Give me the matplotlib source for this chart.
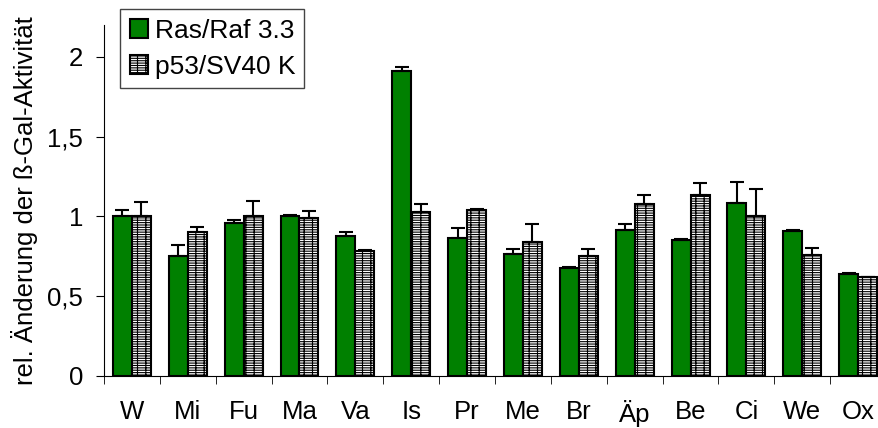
import numpy as np
import matplotlib
matplotlib.use("Agg")
import matplotlib.pyplot as plt

plt.rcParams["font.family"] = ["Liberation Sans", "DejaVu Sans"]
plt.rcParams["hatch.linewidth"] = 0.8
plt.rcParams["hatch.color"] = "#333333"

categories = ["W", "Mi", "Fu", "Ma", "Va", "Is", "Pr", "Me", "Br", "Äp", "Be", "Ci", "We", "Ox"]
ras = [1.00, 0.75, 0.96, 1.00, 0.88, 1.915, 0.865, 0.765, 0.68, 0.915, 0.855, 1.085, 0.91, 0.64]
ras_err = [0.04, 0.07, 0.015, 0.01, 0.02, 0.02, 0.06, 0.03, 0.005, 0.04, 0.005, 0.13, 0.005, 0.003]
p53 = [1.00, 0.90, 1.00, 0.99, 0.785, 1.03, 1.04, 0.84, 0.75, 1.08, 1.135, 1.00, 0.76, 0.62]
p53_err = [0.09, 0.035, 0.095, 0.045, 0.005, 0.05, 0.005, 0.11, 0.045, 0.055, 0.075, 0.17, 0.045, 0.003]

fig = plt.figure(figsize=(8.79, 4.28), dpi=100)
ax = fig.add_axes([0.1183, 0.1215, 0.8897, 0.820])

x = np.arange(len(categories))
w = 0.34
err_kw = dict(elinewidth=1.5, capthick=1.5, ecolor="black")
ax.bar(x - w / 2, ras, w, color="#008000", edgecolor="black", linewidth=1.5,
       yerr=[np.zeros(len(ras)), ras_err], capsize=5, error_kw=err_kw, label="Ras/Raf 3.3")
ax.bar(x + w / 2, p53, w, color="white", edgecolor="black", linewidth=1.5, hatch="-------||",
       yerr=[np.zeros(len(p53)), p53_err], capsize=5, error_kw=err_kw, label="p53/SV40 K")

ax.set_xlim(-0.5, len(categories) - 0.5)
ax.set_ylim(0, 2.2)
ax.set_yticks([0, 0.5, 1, 1.5, 2])
ax.set_yticklabels(["0", "0,5", "1", "1,5", "2"], fontsize=18.5)
ax.set_xticks(x)
ax.set_xticklabels(categories, fontsize=18.5)
ax.set_xticks(np.arange(len(categories) + 1) - 0.5, minor=True)
ax.tick_params(axis="x", which="major", length=0, pad=17)
ax.tick_params(axis="x", which="minor", length=6, direction="out")
ax.tick_params(axis="y", length=6, direction="out", pad=9)
ax.spines["top"].set_visible(False)
ax.spines["right"].set_visible(False)
ax.set_ylabel("rel. Änderung der ß-Gal-Aktivität", fontsize=18.5, labelpad=7)

leg = ax.legend(loc="upper left", bbox_to_anchor=(0.137, 0.978), bbox_transform=fig.transFigure,
                fontsize=19, fancybox=False, edgecolor="#444444", framealpha=1,
                handlelength=0.7, handleheight=0.7, handletextpad=0.25, borderpad=0.35,
                labelspacing=0.45, borderaxespad=0)
leg.get_frame().set_linewidth(1.0)

fig.savefig("out.png", dpi=100)
